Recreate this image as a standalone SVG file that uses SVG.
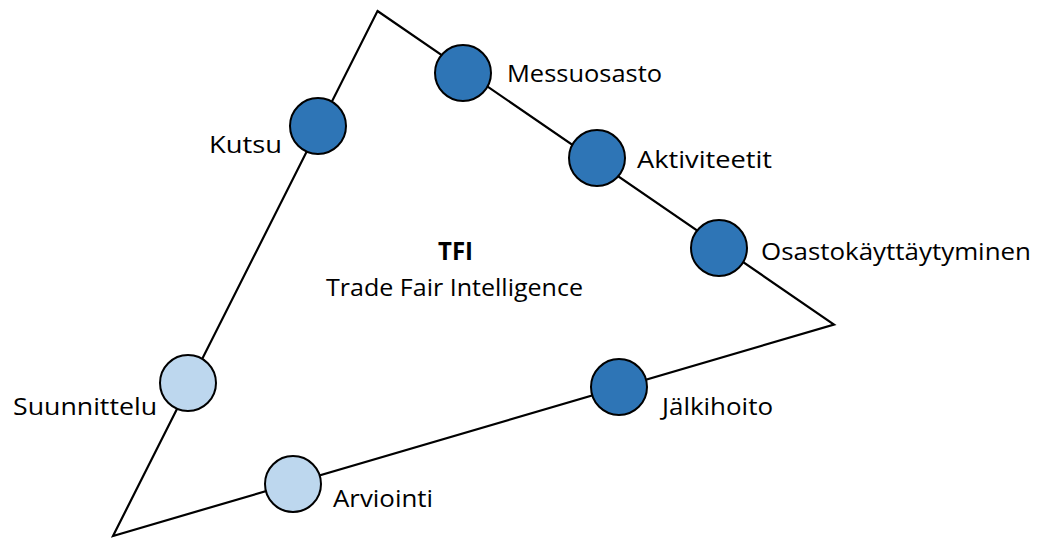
<svg xmlns="http://www.w3.org/2000/svg" width="1037" height="538" viewBox="0 0 1037 538">
<style>
.edge{fill:none;stroke:#000;stroke-width:2.2;stroke-linejoin:miter}
.dark{fill:#2E75B6;stroke:#000;stroke-width:2}
.light{fill:#BDD7EE;stroke:#000;stroke-width:2}
text{font-family:"Open Sans","Liberation Sans",sans-serif;font-size:24.5px;fill:#000}
.b{font-weight:bold}
</style>
<rect width="1037" height="538" fill="#fff"/>
<g id="connectors">
<polygon class="edge" points="377.5,11 834,324.5 113,536"/>
</g>
<g id="center-label">
<text class="b" x="438" y="260" textLength="35" lengthAdjust="spacingAndGlyphs">TFI</text>
<text x="326" y="296" textLength="257" lengthAdjust="spacingAndGlyphs">Trade Fair Intelligence</text>
</g>
<g id="kutsu"><circle class="dark" cx="318" cy="126" r="28"/><text x="209" y="153" textLength="73" lengthAdjust="spacingAndGlyphs">Kutsu</text></g>
<g id="messuosasto"><circle class="dark" cx="463" cy="73" r="28"/><text x="507" y="82" textLength="155" lengthAdjust="spacingAndGlyphs">Messuosasto</text></g>
<g id="aktiviteetit"><circle class="dark" cx="597" cy="158" r="28"/><text x="637" y="168" textLength="135" lengthAdjust="spacingAndGlyphs">Aktiviteetit</text></g>
<g id="osastokayttaytyminen"><circle class="dark" cx="719" cy="248" r="28"/><text x="761" y="260" textLength="270" lengthAdjust="spacingAndGlyphs">Osastokäyttäytyminen</text></g>
<g id="suunnittelu"><circle class="light" cx="188" cy="383" r="28"/><text x="13" y="415" textLength="144" lengthAdjust="spacingAndGlyphs">Suunnittelu</text></g>
<g id="jalkihoito"><circle class="dark" cx="619" cy="387" r="28"/><text x="662" y="415" textLength="111" lengthAdjust="spacingAndGlyphs">Jälkihoito</text></g>
<g id="arviointi"><circle class="light" cx="293" cy="484" r="28"/><text x="333" y="507" textLength="100" lengthAdjust="spacingAndGlyphs">Arviointi</text></g>
</svg>
